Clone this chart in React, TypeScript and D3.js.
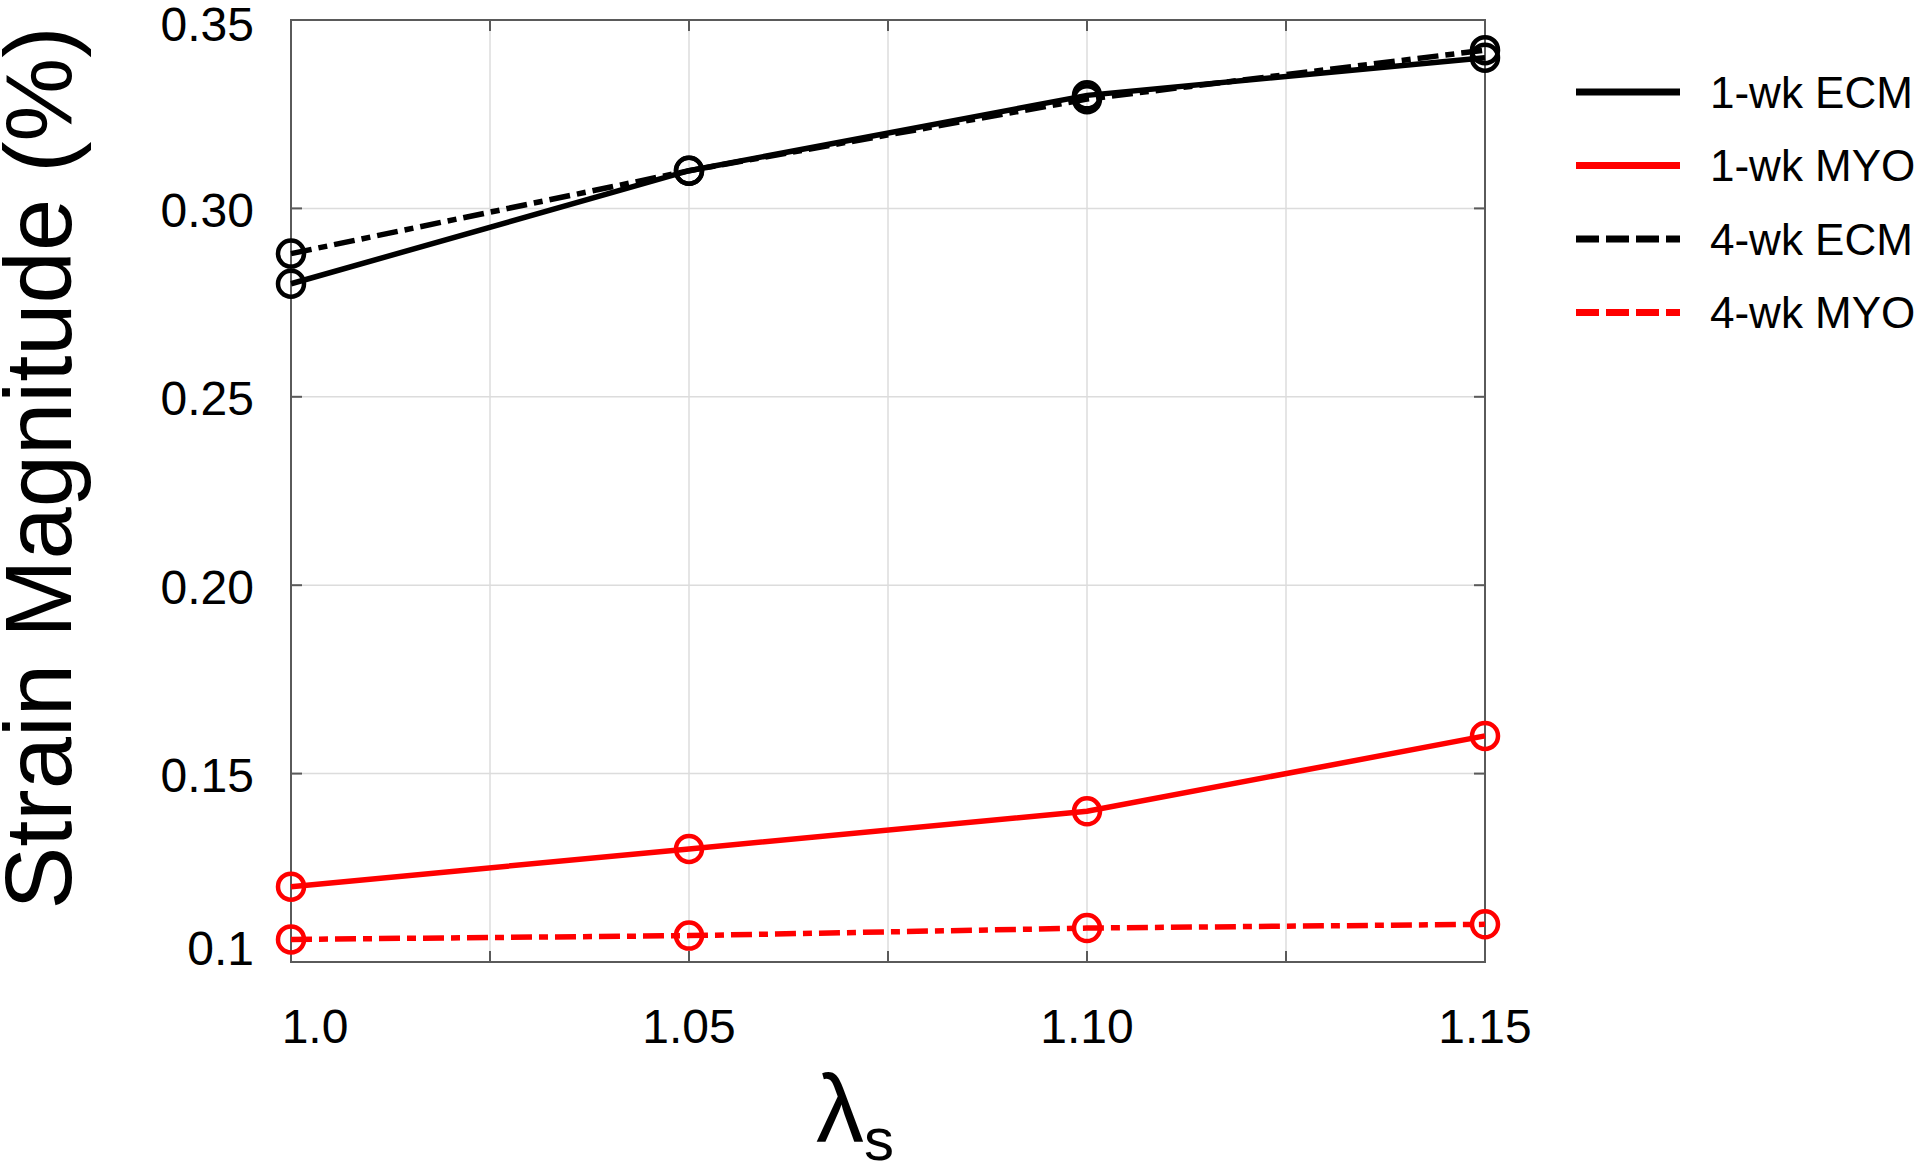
import React from 'react';
import * as d3 from 'd3';

// stretch ratio on x axis
const lambdaS = [1.0, 1.05, 1.1, 1.15];

// strain magnitude (%) per series
const ecm1wk = [0.28, 0.31, 0.33, 0.34];
const myo1wk = [0.12, 0.13, 0.14, 0.16];
const ecm4wk = [0.288, 0.31, 0.329, 0.342];
const myo4wk = [0.106, 0.107, 0.109, 0.11];

const seriesNames = ['1-wk ECM', '1-wk MYO', '4-wk ECM', '4-wk MYO'];
const seriesColors = ['#000000', '#ff0000', '#000000', '#ff0000'];
const seriesDashed = [false, false, true, true];

const xTickValues = [1.0, 1.05, 1.1, 1.15];
const xTickLabels = ['1.0', '1.05', '1.10', '1.15'];
const xGridValues = [1.0, 1.025, 1.05, 1.075, 1.1, 1.125, 1.15];
const yTickValues = [0.1, 0.15, 0.2, 0.25, 0.3, 0.35];
const yTickLabels = ['0.1', '0.15', '0.20', '0.25', '0.30', '0.35'];

const FONT = '"Liberation Sans", Arial, Helvetica, sans-serif';

export default function App() {
  const width = 1920;
  const height = 1170;
  const left = 291;
  const right = 1485;
  const top = 20;
  const bottom = 962;

  const x = d3.scaleLinear().domain([1.0, 1.15]).range([left, right]);
  const y = d3.scaleLinear().domain([0.1, 0.35]).range([bottom, top]);

  const series = [ecm1wk, myo1wk, ecm4wk, myo4wk];
  const line = d3
    .line<number>()
    .x((_, i) => x(lambdaS[i]))
    .y((d) => y(d));

  const tickLen = 11;
  const boxColor = '#5a5a5a';
  const gridColor = '#dcdcdc';

  return (
    <svg
      width={width}
      height={height}
      style={{ position: 'absolute', left: 0, top: 0, background: '#fff' }}
      fontFamily={FONT}
    >
      {/* grid */}
      {xGridValues.map((v) => (
        <line key={'gx' + v} x1={x(v)} x2={x(v)} y1={top} y2={bottom} stroke={gridColor} strokeWidth={1.5} />
      ))}
      {yTickValues.map((v) => (
        <line key={'gy' + v} x1={left} x2={right} y1={y(v)} y2={y(v)} stroke={gridColor} strokeWidth={1.5} />
      ))}

      {/* inside ticks on all sides */}
      {xGridValues.map((v) => (
        <g key={'tx' + v} stroke={boxColor} strokeWidth={2}>
          <line x1={x(v)} x2={x(v)} y1={bottom} y2={bottom - tickLen} />
          <line x1={x(v)} x2={x(v)} y1={top} y2={top + tickLen} />
        </g>
      ))}
      {yTickValues.map((v) => (
        <g key={'ty' + v} stroke={boxColor} strokeWidth={2}>
          <line x1={left} x2={left + tickLen} y1={y(v)} y2={y(v)} />
          <line x1={right} x2={right - tickLen} y1={y(v)} y2={y(v)} />
        </g>
      ))}

      {/* box */}
      <rect x={left} y={top} width={right - left} height={bottom - top} fill="none" stroke={boxColor} strokeWidth={2} />

      {/* tick labels */}
      {xTickValues.map((v, i) => (
        <text key={'xl' + v} x={x(v) + (i === 0 ? 24 : 0)} y={1043} fontSize={48} textAnchor="middle" fill="#000">
          {xTickLabels[i]}
        </text>
      ))}
      {yTickValues.map((v, i) => (
        <text
          key={'yl' + v}
          x={254}
          y={y(v) + (i === 0 ? -14 : i === yTickValues.length - 1 ? 4 : 2)}
          fontSize={48}
          textAnchor="end"
          dominantBaseline="central"
          fill="#000"
        >
          {yTickLabels[i]}
        </text>
      ))}

      {/* axis titles */}
      <text transform={`translate(71,468) rotate(-90)`} fontSize={94} textAnchor="middle" fill="#000">
        Strain Magnitude (%)
      </text>
      <text x={816} y={1142} fontSize={96} fill="#000">
        λ
        <tspan fontSize={60} dy={18}>s</tspan>
      </text>

      {/* series lines */}
      {series.map((s, k) => (
        <path
          key={'l' + k}
          d={line(s) || ''}
          fill="none"
          stroke={seriesColors[k]}
          strokeWidth={5.5}
          strokeDasharray={seriesDashed[k] ? '21 7 9 7' : undefined}
        />
      ))}
      {/* markers */}
      {series.map((s, k) =>
        s.map((v, i) => (
          <circle
            key={'m' + k + '-' + i}
            cx={x(lambdaS[i])}
            cy={y(v)}
            r={13}
            fill="none"
            stroke={seriesColors[k]}
            strokeWidth={4.5}
          />
        ))
      )}

      {/* legend */}
      {seriesNames.map((name, k) => {
        const ly = 92 + k * 73.5;
        return (
          <g key={'lg' + k}>
            <line
              x1={1576}
              x2={1680}
              y1={ly}
              y2={ly}
              stroke={seriesColors[k]}
              strokeWidth={7}
              strokeDasharray={seriesDashed[k] ? '23 7' : undefined}
            />
            <text x={1710} y={ly} fontSize={44} dominantBaseline="central" fill="#000">
              {name}
            </text>
          </g>
        );
      })}
    </svg>
  );
}
